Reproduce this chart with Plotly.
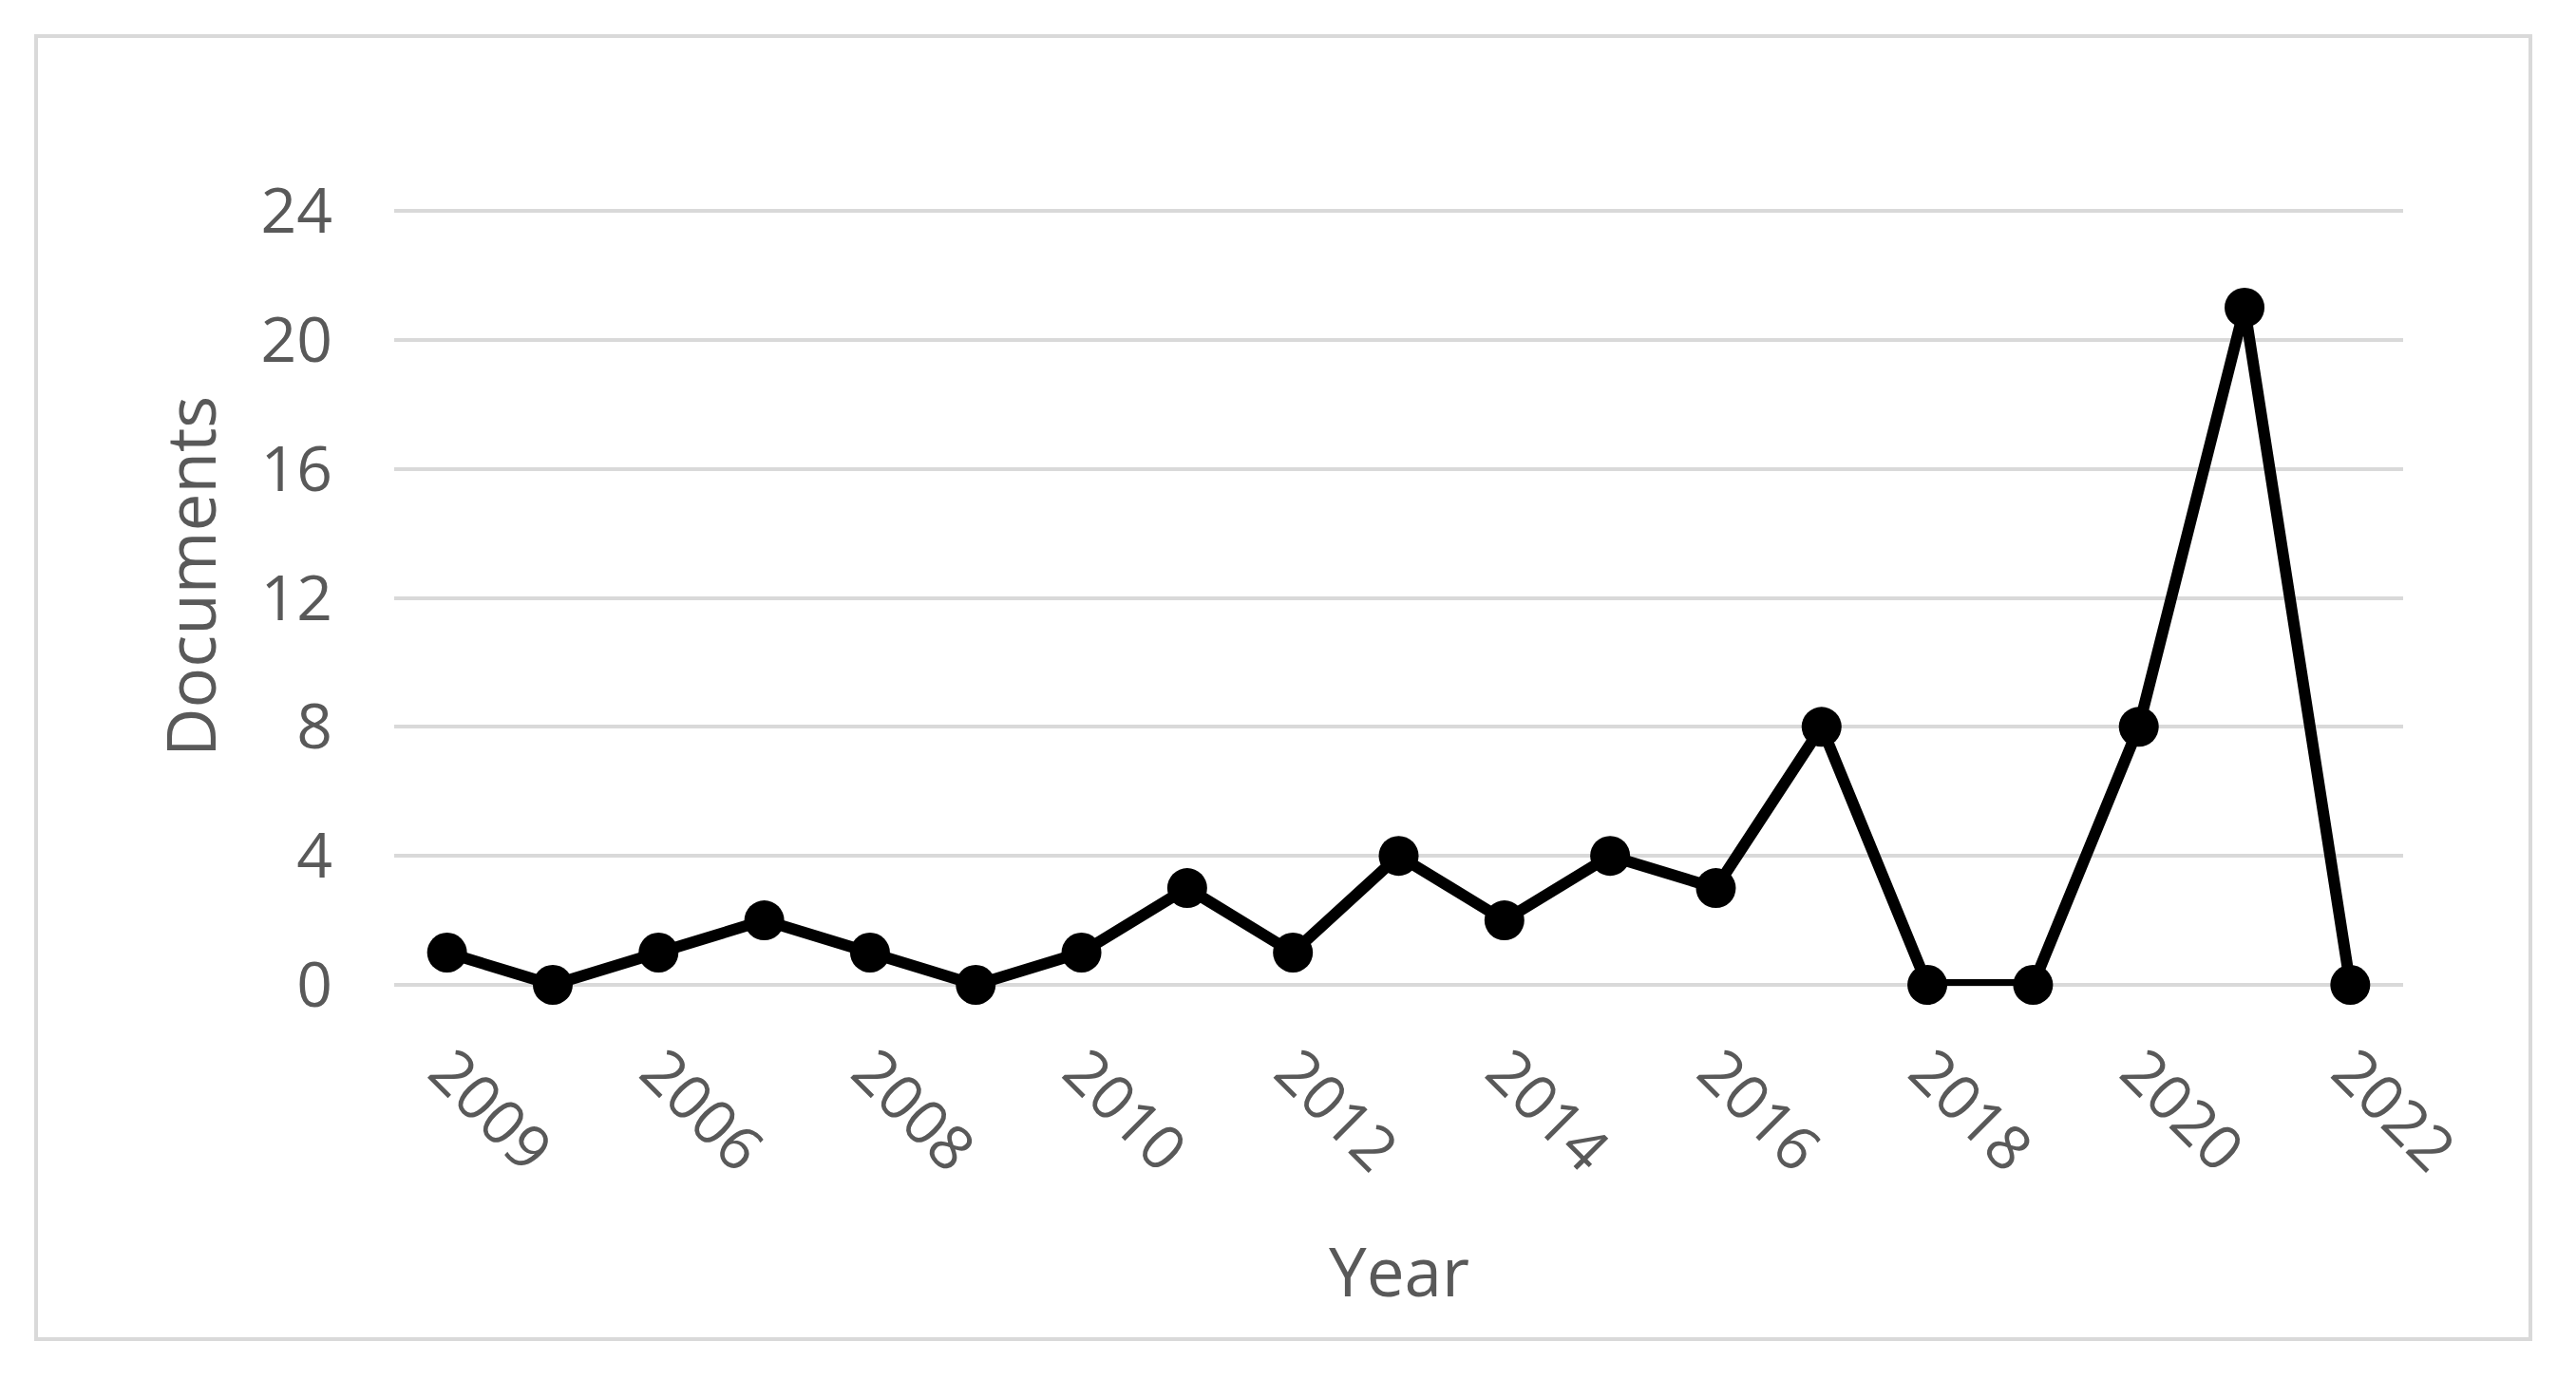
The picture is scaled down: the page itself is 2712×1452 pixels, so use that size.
import plotly.graph_objects as go

years = ["2009", "2005", "2006", "2007", "2008", "2009", "2010", "2011", "2012", "2013",
         "2014", "2015", "2016", "2017", "2018", "2019", "2020", "2021", "2022"]
documents = [1, 0, 1, 2, 1, 0, 1, 3, 1, 4, 2, 4, 3, 8, 0, 0, 8, 21, 0]
y_ticks = [0, 4, 8, 12, 16, 20, 24]

OFF = 8  # browser body margin
W, H = 2712 - 2 * OFF, 1452 - 2 * OFF
L, R, T, B = 415 - OFF, 2530 - OFF, 221 - OFF, 1038 - OFF
pw, ph = R - L, B - T

idx = list(range(len(years)))
tick_idx = idx[::2]
tick_text = [years[i] for i in tick_idx]

fig = go.Figure()
fig.add_trace(go.Scatter(
    x=idx, y=documents, mode="lines+markers",
    line=dict(color="black", width=12),
    marker=dict(color="black", size=42),
    cliponaxis=False, showlegend=False,
))

font = "Open Sans"
grey = "#595959"

fig.update_layout(
    width=W, height=H,
    margin=dict(l=L, r=W - R, t=T, b=H - B, pad=0),
    paper_bgcolor="white", plot_bgcolor="white",
    font=dict(family=font, color=grey),
    xaxis=dict(
        range=[-0.5, len(years) - 0.5],
        tickmode="array", tickvals=tick_idx, ticktext=tick_text,
        tickangle=45, tickfont=dict(size=65, color=grey, family=font),
        showgrid=False, zeroline=False, showline=False, ticks="",
        ticklabelstandoff=38,
    ),
    yaxis=dict(
        range=[-0.03, 24.03], tickmode="array", tickvals=y_ticks,
        tickfont=dict(size=66, color=grey, family=font),
        showgrid=True, gridcolor="#d9d9d9", gridwidth=4,
        zeroline=False, showline=False, ticks="",
        ticklabelstandoff=64,
    ),
    shapes=[dict(
        type="rect", xref="paper", yref="paper",
        x0=(38 - OFF - L) / pw, x1=(2664 - OFF - L) / pw,
        y0=(B - (1410 - OFF)) / ph, y1=(B - (38 - OFF)) / ph,
        line=dict(color="#d9d9d9", width=4), fillcolor="rgba(0,0,0,0)",
        layer="below",
    )],
    annotations=[
        dict(text="Documents", xref="paper", yref="paper",
             x=(199 - OFF - L) / pw, y=(B - (607 - OFF)) / ph, textangle=-90,
             showarrow=False, xanchor="center", yanchor="middle",
             font=dict(size=71, color=grey, family=font)),
        dict(text="Year", xref="paper", yref="paper",
             x=0.5, y=(B - (1337 - OFF)) / ph,
             showarrow=False, xanchor="center", yanchor="middle",
             font=dict(size=71, color=grey, family=font)),
    ],
)

fig.write_html("out.html")
